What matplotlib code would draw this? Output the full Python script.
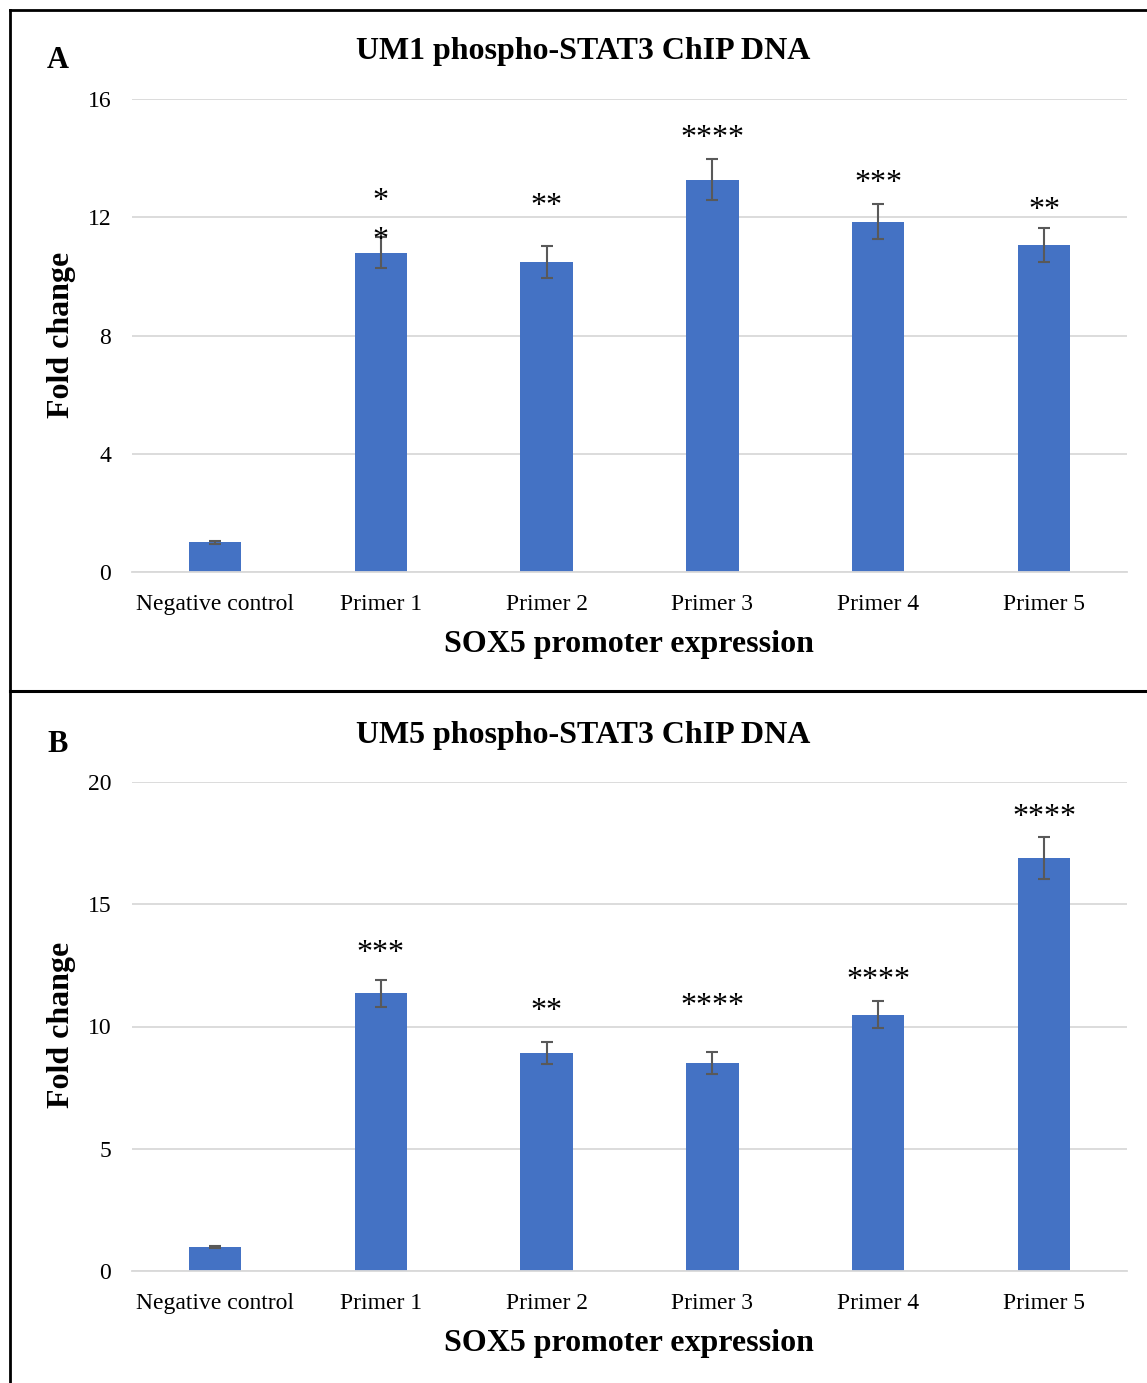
import matplotlib
matplotlib.use("Agg")
import matplotlib.pyplot as plt
from matplotlib.lines import Line2D

plt.rcParams['font.family'] = ['Liberation Serif', 'DejaVu Serif']

categories = ["Negative control", "Primer 1", "Primer 2", "Primer 3", "Primer 4", "Primer 5"]

# panel A: UM1
um1_values = [1.0, 10.8, 10.5, 13.27, 11.85, 11.07]
um1_errors = [0.05, 0.53, 0.54, 0.7, 0.6, 0.57]
um1_sig = ["", "*\n*", "**", "****", "***", "**"]

# panel B: UM5
um5_values = [1.0, 11.35, 8.93, 8.52, 10.48, 16.9]
um5_errors = [0.04, 0.56, 0.45, 0.45, 0.56, 0.85]
um5_sig = ["", "***", "**", "****", "****", "****"]

W, H = 1147, 1383
fig = plt.figure(figsize=(W / 100, H / 100), dpi=100)

BAR = "#4472C4"
GRID = "#D9D9D9"
ERR = "#595959"


def fx(px):
    return px / W


def fy(py):
    return 1 - py / H


def panel(top_px, bottom_px, values, errors, sig, ymax, ystep, sig_off,
          title, letter, title_y, letter_y, ylab_y, xlab_y):
    ax = fig.add_axes([fx(132), fy(bottom_px), fx(1127) - fx(132), fy(top_px) - fy(bottom_px)])
    x = list(range(len(categories)))
    ax.bar(x, values, width=0.315, color=BAR, zorder=2)
    ax.errorbar(x, values, yerr=errors, fmt="none", ecolor=ERR, elinewidth=1.5,
                capsize=4.3, capthick=1.5, zorder=3)
    for i, s in enumerate(sig):
        if not s:
            continue
        ax.annotate(s, (i, values[i] + errors[i]), xytext=(0, sig_off[i] * 0.72),
                    textcoords="offset points", ha="center", va="center",
                    fontsize=23, linespacing=1.45, zorder=4)
    ax.set_xlim(-0.5, len(categories) - 0.5)
    ax.set_ylim(0, ymax)
    ax.set_yticks(range(0, ymax + 1, ystep))
    ax.yaxis.grid(True, color=GRID, linewidth=1.3, zorder=0)
    ax.set_axisbelow(True)
    for side in ["top", "right", "left"]:
        ax.spines[side].set_visible(False)
    ax.spines["bottom"].set_color(GRID)
    ax.spines["bottom"].set_linewidth(1.3)
    ax.tick_params(length=0, labelsize=17)
    ax.tick_params(axis="y", pad=15)
    ax.tick_params(axis="x", pad=15.5)
    ax.set_xticks(x)
    ax.set_xticklabels(categories)

    fig.text(fx(583), fy(title_y), title, ha="center", va="center",
             fontsize=23, fontweight="bold")
    fig.text(fx(58), fy(letter_y), letter, ha="center", va="center",
             fontsize=22, fontweight="bold")
    fig.text(fx(62), fy(ylab_y), "Fold change", ha="center", va="center",
             rotation=90, fontsize=23, fontweight="bold")
    fig.text(fx(629), fy(xlab_y), "SOX5 promoter expression", ha="center", va="center",
             fontsize=23, fontweight="bold")
    return ax


panel(99, 572, um1_values, um1_errors, um1_sig, 16, 4,
      [0, 16, 39, 21, 20, 17],
      "UM1 phospho-STAT3 ChIP DNA", "A", 52, 61, 335, 645)
panel(782, 1271, um5_values, um5_errors, um5_sig, 20, 5,
      [0, 26, 30, 45, 21, 20],
      "UM5 phospho-STAT3 ChIP DNA", "B", 736, 744, 1025, 1344)

# panel frames
fig.add_artist(Line2D([fx(10), 1], [fy(10), fy(10)], color="black", linewidth=2))
fig.add_artist(Line2D([fx(10), 1], [fy(691), fy(691)], color="black", linewidth=2.2))
fig.add_artist(Line2D([fx(10), fx(10)], [0, fy(10)], color="black", linewidth=2))

fig.savefig("out.png", dpi=100)
